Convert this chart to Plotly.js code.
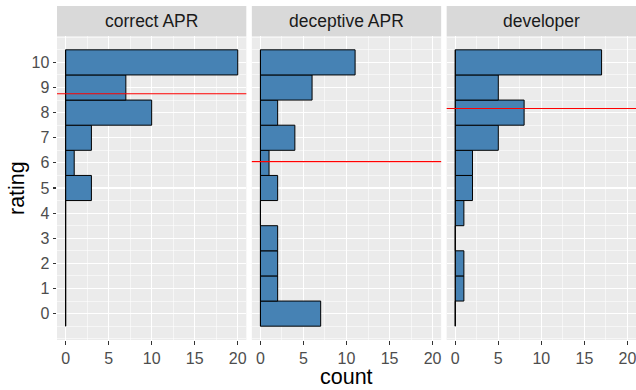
<!DOCTYPE html>
<html>
<head>
<meta charset="utf-8">
<script src="https://cdn.plot.ly/plotly-3.0.1.min.js"></script>
<style>html,body{margin:0;padding:0;background:#fff;}#chart{width:636px;height:390px;}</style>
</head>
<body>
<div id="chart"></div>
<script>
const ratings = [0, 1, 2, 3, 4, 5, 6, 7, 8, 9, 10];
const panels = ["correct APR", "deceptive APR", "developer"];
const countsCorrect   = [0, 0, 0, 0, 0, 3, 1, 3, 10, 7, 20];
const countsDeceptive = [7, 2, 2, 2, 0, 2, 1, 4, 2, 6, 11];
const countsDeveloper = [0, 1, 1, 0, 1, 2, 2, 5, 8, 5, 17];
const xTicks = [0, 5, 10, 15, 20];

const allCounts = [countsCorrect, countsDeceptive, countsDeveloper];
function mean(counts) {
  let n = 0, s = 0;
  counts.forEach((c, i) => { n += c; s += c * ratings[i]; });
  return s / n;
}

const W = 636, H = 390;
const mL = 57.3, mR = 0, mT = 6, mB = 50;
const plotW = W - mL - mR, plotH = H - mT - mB;
const gap = 5.5;
const pw = (plotW - 2 * gap) / 3;
const stripH = 30;
const yTop = (plotH - stripH) / plotH;

const traces = [];
const shapes = [];
const annotations = [];
const layout = {
  width: W, height: H,
  margin: {l: mL, r: mR, t: mT, b: mB, pad: 0},
  paper_bgcolor: '#ffffff',
  plot_bgcolor: '#EBEBEB',
  showlegend: false,
  bargap: 0,
  font: {family: 'Liberation Sans, Arial, sans-serif', color: '#4D4D4D'},
  shapes: shapes,
  annotations: annotations
};

const yMin = ratings[0] - 0.5, yMax = ratings[ratings.length - 1] + 0.5;
const ySpan = yMax - yMin;

allCounts.forEach((counts, k) => {
  const sfx = k === 0 ? '' : String(k + 1);
  const xa = 'x' + sfx, ya = 'y' + sfx;
  const d0 = (k * (pw + gap)) / plotW, d1 = (k * (pw + gap) + pw) / plotW;
  layout['xaxis' + sfx] = {
    domain: [d0, d1], anchor: ya, range: [-1, 21],
    tickvals: xTicks, ticktext: xTicks.map(String),
    ticks: 'outside', ticklen: 3.5, tickwidth: 1.1, tickcolor: '#333333',
    tickfont: {size: 16, color: '#4D4D4D'},
    ticklabeloverflow: 'allow',
    showgrid: true, gridcolor: '#FFFFFF', gridwidth: 1.1,
    minor: {dtick: 2.5, tick0: 0, showgrid: true, gridcolor: '#FFFFFF', gridwidth: 0.55, ticks: ''},
    zeroline: false, showline: false, fixedrange: true
  };
  layout['yaxis' + sfx] = {
    domain: [0, yTop], anchor: xa,
    range: [yMin - 0.05 * ySpan, yMax + 0.05 * ySpan],
    tickvals: ratings, ticktext: ratings.map(String),
    ticks: k === 0 ? 'outside' : '', ticklen: 3.5, tickwidth: 1.1, tickcolor: '#333333',
    showticklabels: k === 0,
    tickfont: {size: 16, color: '#4D4D4D'},
    showgrid: true, gridcolor: '#FFFFFF', gridwidth: 1.1,
    minor: {dtick: 0.5, tick0: 0.5, showgrid: true, gridcolor: '#FFFFFF', gridwidth: 0.55, ticks: ''},
    zeroline: false, showline: false, fixedrange: true
  };
  traces.push({
    type: 'bar', orientation: 'h', x: counts, y: ratings, width: 1,
    xaxis: xa, yaxis: ya,
    marker: {color: '#4682B4', line: {color: '#000000', width: 1}},
    hoverinfo: 'x+y'
  });
  traces.push({
    type: 'scatter', mode: 'lines', x: [0, 0], y: [yMin, yMax],
    xaxis: xa, yaxis: ya, line: {color: '#000000', width: 1}, hoverinfo: 'skip'
  });
  const m = mean(counts);
  shapes.push({
    type: 'line', xref: xa + ' domain', yref: ya, x0: 0, x1: 1, y0: m, y1: m,
    line: {color: '#FF0000', width: 1.1}, layer: 'above'
  });
  shapes.push({
    type: 'rect', xref: 'paper', yref: 'paper', x0: d0, x1: d1, y0: yTop, y1: 1,
    fillcolor: '#D9D9D9', line: {width: 0}, layer: 'below'
  });
  annotations.push({
    xref: 'paper', yref: 'paper', x: (d0 + d1) / 2, y: (yTop + 1) / 2,
    text: panels[k], showarrow: false, xanchor: 'center', yanchor: 'middle',
    font: {size: 17.5, color: '#1A1A1A'}
  });
});

annotations.push({
  xref: 'paper', yref: 'paper', x: 0.5, y: 0, yshift: -37, yanchor: 'middle',
  text: 'count', showarrow: false, font: {size: 21.5, color: '#000000'}
});
annotations.push({
  xref: 'paper', yref: 'paper', x: 0, xshift: -40, y: yTop / 2, xanchor: 'center', yanchor: 'middle',
  text: 'rating', textangle: -90, showarrow: false, font: {size: 21.5, color: '#000000'}
});

Plotly.newPlot('chart', traces, layout, {displayModeBar: false, staticPlot: true});
</script>
</body>
</html>
